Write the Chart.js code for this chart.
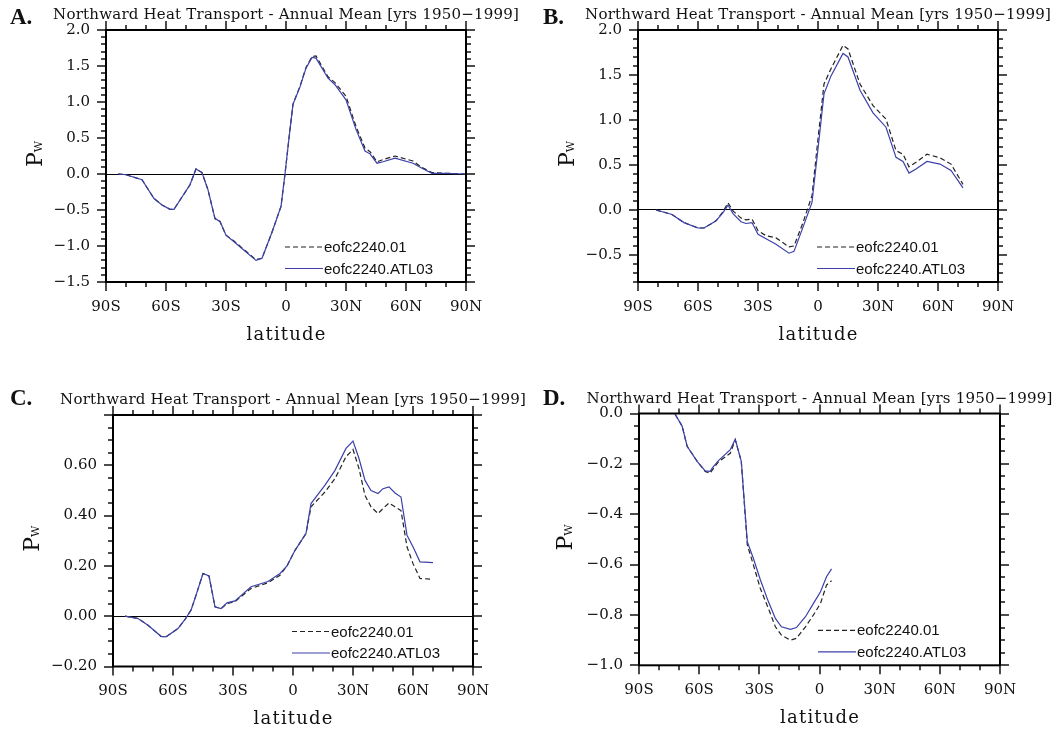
<!DOCTYPE html>
<html>
<head>
<meta charset="utf-8">
<script src="https://cdn.jsdelivr.net/npm/chart.js@4.4.0/dist/chart.umd.min.js"></script>
<style>
  html, body { margin: 0; padding: 0; background: #fff; }
  #wrap { position: relative; width: 1062px; height: 729px; overflow: hidden; }
  canvas { position: absolute; }
</style>
</head>
<body>
<div id="wrap">
  <canvas id="chartA" width="531" height="365" style="left:0;top:0"></canvas>
  <canvas id="chartB" width="531" height="365" style="left:531px;top:0"></canvas>
  <canvas id="chartC" width="531" height="364" style="left:0;top:365px"></canvas>
  <canvas id="chartD" width="531" height="364" style="left:531px;top:365px"></canvas>
</div>
<script>
// labels
const titleText = 'Northward Heat Transport - Annual Mean [yrs 1950\u22121999]';
const seriesNames = ['eofc2240.01', 'eofc2240.ATL03'];
const xTickLabels = ['90S', '60S', '30S', '0', '30N', '60N', '90N'];

// panel A
const latA = [-84, -80, -72, -66, -62, -58, -56, -52, -48, -45, -42, -39, -35.5, -33, -30, -26, -21, -15, -12, -7, -2.5, -0.5,
  1.5, 3.5, 7, 10, 13, 15, 21, 24.5, 30, 35, 39.5, 42, 45.5, 48.5, 54.5, 63.5, 68, 73, 80, 89.5];
const ctlA = [0, -0.01, -0.08, -0.34, -0.43, -0.49, -0.49, -0.32, -0.15, 0.07, 0.02, -0.22, -0.62, -0.66, -0.85, -0.93, -1.05, -1.19, -1.17, -0.81, -0.45, 0.0,
  0.5, 0.97, 1.22, 1.48, 1.63, 1.64, 1.35, 1.27, 1.08, 0.66, 0.36, 0.31, 0.17, 0.20, 0.25, 0.18, 0.09, 0.02, 0.01, 0.0];
const atlA = [0, -0.01, -0.08, -0.34, -0.43, -0.49, -0.49, -0.32, -0.15, 0.07, 0.02, -0.22, -0.62, -0.66, -0.85, -0.94, -1.06, -1.20, -1.17, -0.81, -0.45, 0.0,
  0.5, 0.97, 1.21, 1.47, 1.62, 1.61, 1.33, 1.24, 1.03, 0.62, 0.32, 0.28, 0.15, 0.17, 0.22, 0.15, 0.08, 0.01, 0.01, 0.0];

// panel B
const latB = [-81, -73, -67, -60, -57, -54, -51, -47.5, -45, -42.5, -38.5, -36, -33, -30, -26, -21, -14.5, -12, -7.5, -3,
  0, 3, 6.5, 12.5, 15, 21, 27.5, 34, 39, 42.5, 45.5, 49, 54.5, 61, 66.5, 72.5];
const ctlB = [0, -0.05, -0.14, -0.20, -0.20, -0.16, -0.12, -0.02, 0.08, -0.01, -0.09, -0.11, -0.10, -0.23, -0.285, -0.31, -0.41, -0.40, -0.14, 0.16,
  0.79, 1.40, 1.57, 1.83, 1.79, 1.40, 1.16, 1.01, 0.66, 0.62, 0.48, 0.53, 0.62, 0.58, 0.51, 0.285];
const atlB = [0, -0.05, -0.14, -0.20, -0.20, -0.16, -0.12, -0.03, 0.055, -0.04, -0.13, -0.15, -0.14, -0.27, -0.32, -0.38, -0.48, -0.46, -0.19, 0.085,
  0.68, 1.29, 1.49, 1.74, 1.70, 1.33, 1.08, 0.92, 0.585, 0.54, 0.41, 0.455, 0.54, 0.51, 0.44, 0.245];

// panel C
const latC = [-84, -77.5, -72.5, -66, -63.5, -57.5, -54, -51, -48.5, -45, -42, -39, -36, -33, -29, -21, -12.5, -6.5, -3,
  1, 6.5, 9, 16, 21, 26.5, 30, 33, 36, 39, 42.5, 45, 48, 51, 54, 57, 60, 63.5, 70];
const ctlC = [0, -0.009, -0.036, -0.080, -0.082, -0.049, -0.013, 0.024, 0.083, 0.17, 0.16, 0.037, 0.030, 0.05, 0.058, 0.11, 0.133, 0.163, 0.20,
  0.262, 0.329, 0.435, 0.494, 0.547, 0.634, 0.663, 0.587, 0.48, 0.435, 0.408, 0.428, 0.45, 0.435, 0.42, 0.276, 0.209, 0.15, 0.147];
const atlC = [0, -0.009, -0.036, -0.080, -0.082, -0.049, -0.013, 0.024, 0.083, 0.17, 0.16, 0.037, 0.030, 0.053, 0.061, 0.117, 0.138, 0.17, 0.20,
  0.262, 0.329, 0.448, 0.521, 0.58, 0.667, 0.696, 0.627, 0.54, 0.50, 0.488, 0.507, 0.514, 0.49, 0.474, 0.322, 0.276, 0.216, 0.213];

// panel D
const latD = [-72, -68.5, -66, -61, -57, -54.5, -53.5, -50.5, -44.5, -42, -39, -36, -33, -29.5, -25.5, -22, -19, -14.5, -11.5, -7, -3, 0.5, 3.5, 6];
const ctlD = [-0.003, -0.05, -0.13, -0.19, -0.23, -0.237, -0.225, -0.193, -0.158, -0.105, -0.19, -0.522, -0.60, -0.695, -0.774, -0.847, -0.88, -0.90, -0.893, -0.847, -0.80, -0.754, -0.681, -0.664];
const atlD = [-0.003, -0.05, -0.13, -0.19, -0.228, -0.23, -0.217, -0.188, -0.144, -0.102, -0.19, -0.509, -0.575, -0.66, -0.747, -0.814, -0.847, -0.857, -0.85, -0.807, -0.754, -0.708, -0.648, -0.617];

// squeeze or spread a string so it spans targetW, centred on cx
function fitText(ctx, text, cx, y, targetW) {
  const w = ctx.measureText(text).width;
  ctx.save();
  ctx.textAlign = 'left';
  if (w < targetW && 'letterSpacing' in ctx) {
    const sp = (targetW - w) / text.length;
    ctx.letterSpacing = sp + 'px';
    ctx.fillText(text, cx - targetW / 2 + sp / 2, y);
  } else {
    ctx.translate(cx - targetW / 2, y);
    ctx.scale(targetW / w, 1);
    ctx.fillText(text, 0, 0);
  }
  ctx.restore();
}

// frame, minor ticks, legend and titles in the NCL style
const nclFrame = {
  id: 'nclFrame',
  afterDraw(chart, args, o) {
    const ctx = chart.ctx;
    const a = chart.chartArea;
    const x = chart.scales.x, y = chart.scales.y;
    const seg = (x1, y1, x2, y2) => { ctx.beginPath(); ctx.moveTo(x1, y1); ctx.lineTo(x2, y2); ctx.stroke(); };
    ctx.save();
    ctx.strokeStyle = '#000';
    ctx.lineWidth = 1.4;

    // x ticks top and bottom
    const nX = Math.round((x.max - x.min) / 10);
    for (let k = 0; k <= nX; k++) {
      const v = x.min + k * 10;
      const len = v % 30 === 0 ? 9 : 5;
      const px = Math.round(x.getPixelForValue(v));
      seg(px, a.bottom, px, a.bottom + len);
      seg(px, a.top, px, a.top - len);
    }
    // y ticks left and right
    const nY = Math.round((y.max - y.min) / o.yMinor);
    for (let k = 0; k <= nY; k++) {
      const v = y.min + k * o.yMinor;
      const r = v / o.yMajor;
      const len = Math.abs(r - Math.round(r)) < 1e-6 ? 9 : 5;
      const py = Math.round(y.getPixelForValue(v));
      seg(a.left, py, a.left - len, py);
      seg(a.right, py, a.right + len, py);
    }
    ctx.lineWidth = 2;
    ctx.strokeRect(a.left, a.top, a.right - a.left, a.bottom - a.top);

    // legend
    chart.data.datasets.forEach((ds, i) => {
      const yy = a.bottom - 35 + i * 21.5;
      ctx.strokeStyle = ds.borderColor;
      ctx.lineWidth = ds.borderWidth;
      ctx.setLineDash(ds.borderDash || []);
      seg(a.left + 179, yy, a.left + 217, yy);
      ctx.setLineDash([]);
      ctx.fillStyle = '#111';
      ctx.font = '15px "Liberation Sans"';
      ctx.textBaseline = 'middle';
      ctx.textAlign = 'left';
      ctx.fillText(ds.label, a.left + 218, yy + 1);
    });

    const cx = (a.left + a.right) / 2;
    ctx.fillStyle = '#111';
    ctx.textBaseline = 'alphabetic';

    // title
    ctx.font = '15px "DejaVu Serif"';
    fitText(ctx, titleText, cx, a.top - 11, 466);

    // x axis title
    ctx.font = '18px "DejaVu Serif"';
    fitText(ctx, 'latitude', cx, a.bottom + 57.5, 80);

    // panel letter
    ctx.font = 'bold 23px "Liberation Serif"';
    ctx.textAlign = 'left';
    ctx.fillText(o.letter, o.letterX, o.letterY);

    // y axis title P with subscript W
    ctx.save();
    ctx.translate(o.pwX, (a.top + a.bottom) / 2);
    ctx.rotate(-Math.PI / 2);
    ctx.font = '22px "DejaVu Serif"';
    const wP = ctx.measureText('P').width;
    ctx.font = '11px "DejaVu Serif"';
    const wW = ctx.measureText('W').width;
    const start = -(wP + wW) / 2 + 2;
    ctx.font = '22px "DejaVu Serif"';
    ctx.fillText('P', start, 0);
    ctx.font = '11px "DejaVu Serif"';
    ctx.fillText('W', start + wP, 0);
    ctx.restore();

    ctx.restore();
  }
};

function makeChart(id, lat, ctl, atl, cfg) {
  const toXY = arr => arr.map((v, i) => ({ x: lat[i], y: v }));
  return new Chart(document.getElementById(id), {
    type: 'line',
    data: {
      datasets: [
        { label: seriesNames[0], data: toXY(ctl), borderColor: '#222', borderDash: [5, 3], borderWidth: 1.2, pointRadius: 0, tension: 0, order: 1 },
        { label: seriesNames[1], data: toXY(atl), borderColor: '#3c40a8', borderWidth: 1.2, pointRadius: 0, tension: 0, order: 0 }
      ]
    },
    options: {
      responsive: false,
      animation: false,
      events: [],
      layout: { padding: { top: cfg.top, right: cfg.right, left: 0, bottom: 0 } },
      plugins: {
        legend: { display: false },
        tooltip: { enabled: false },
        nclFrame: cfg.frame
      },
      scales: {
        x: {
          type: 'linear', min: -90, max: 90,
          afterFit: s => { s.height = cfg.xHeight; },
          grid: { display: false, drawTicks: false },
          border: { display: false },
          ticks: {
            stepSize: 30, autoSkip: false, maxRotation: 0, padding: 16, color: '#111',
            font: { family: 'DejaVu Serif', size: 15 },
            callback: v => xTickLabels[Math.round((v + 90) / 30)]
          }
        },
        y: {
          type: 'linear', min: cfg.yMin, max: cfg.yMax,
          afterFit: s => { s.width = cfg.yWidth; },
          grid: {
            drawTicks: false, lineWidth: 1,
            color: c => (c.tick && Math.abs(c.tick.value) < 1e-9) ? '#000' : 'rgba(0,0,0,0)'
          },
          border: { display: false },
          ticks: {
            stepSize: cfg.frame.yMajor, autoSkip: false, padding: 16, color: '#111',
            font: { family: 'DejaVu Serif', size: 15 },
            callback: v => {
              const r = v / cfg.frame.yMajor;
              if (Math.abs(r - Math.round(r)) > 1e-6) return '';
              if (cfg.hideTop && Math.abs(v - cfg.yMax) < 1e-9) return '';
              const s = Math.abs(v).toFixed(cfg.dec);
              return v < -1e-9 ? '\u2212' + s : s;
            }
          }
        }
      }
    },
    plugins: [nclFrame]
  });
}

makeChart('chartA', latA, ctlA, atlA, {
  top: 30, right: 65, xHeight: 83, yWidth: 106, yMin: -1.5, yMax: 2.0, dec: 1,
  frame: { letter: 'A.', letterX: 10, letterY: 24, pwX: 42, yMinor: 0.1, yMajor: 0.5 }
});
makeChart('chartB', latB, ctlB, atlB, {
  top: 30, right: 64, xHeight: 83, yWidth: 107, yMin: -0.8, yMax: 2.0, dec: 1,
  frame: { letter: 'B.', letterX: 12, letterY: 24, pwX: 43, yMinor: 0.1, yMajor: 0.5 }
});
makeChart('chartC', latC, ctlC, atlC, {
  top: 50, right: 58, xHeight: 62.5, yWidth: 113, yMin: -0.2, yMax: 0.8, dec: 2, hideTop: true,
  frame: { letter: 'C.', letterX: 10, letterY: 40, pwX: 39, yMinor: 0.05, yMajor: 0.2 }
});
makeChart('chartD', latD, ctlD, atlD, {
  top: 48.5, right: 62, xHeight: 63.7, yWidth: 108, yMin: -1.0, yMax: 0.0, dec: 1,
  frame: { letter: 'D.', letterX: 12, letterY: 40, pwX: 41, yMinor: 0.05, yMajor: 0.2 }
});
</script>
</body>
</html>
